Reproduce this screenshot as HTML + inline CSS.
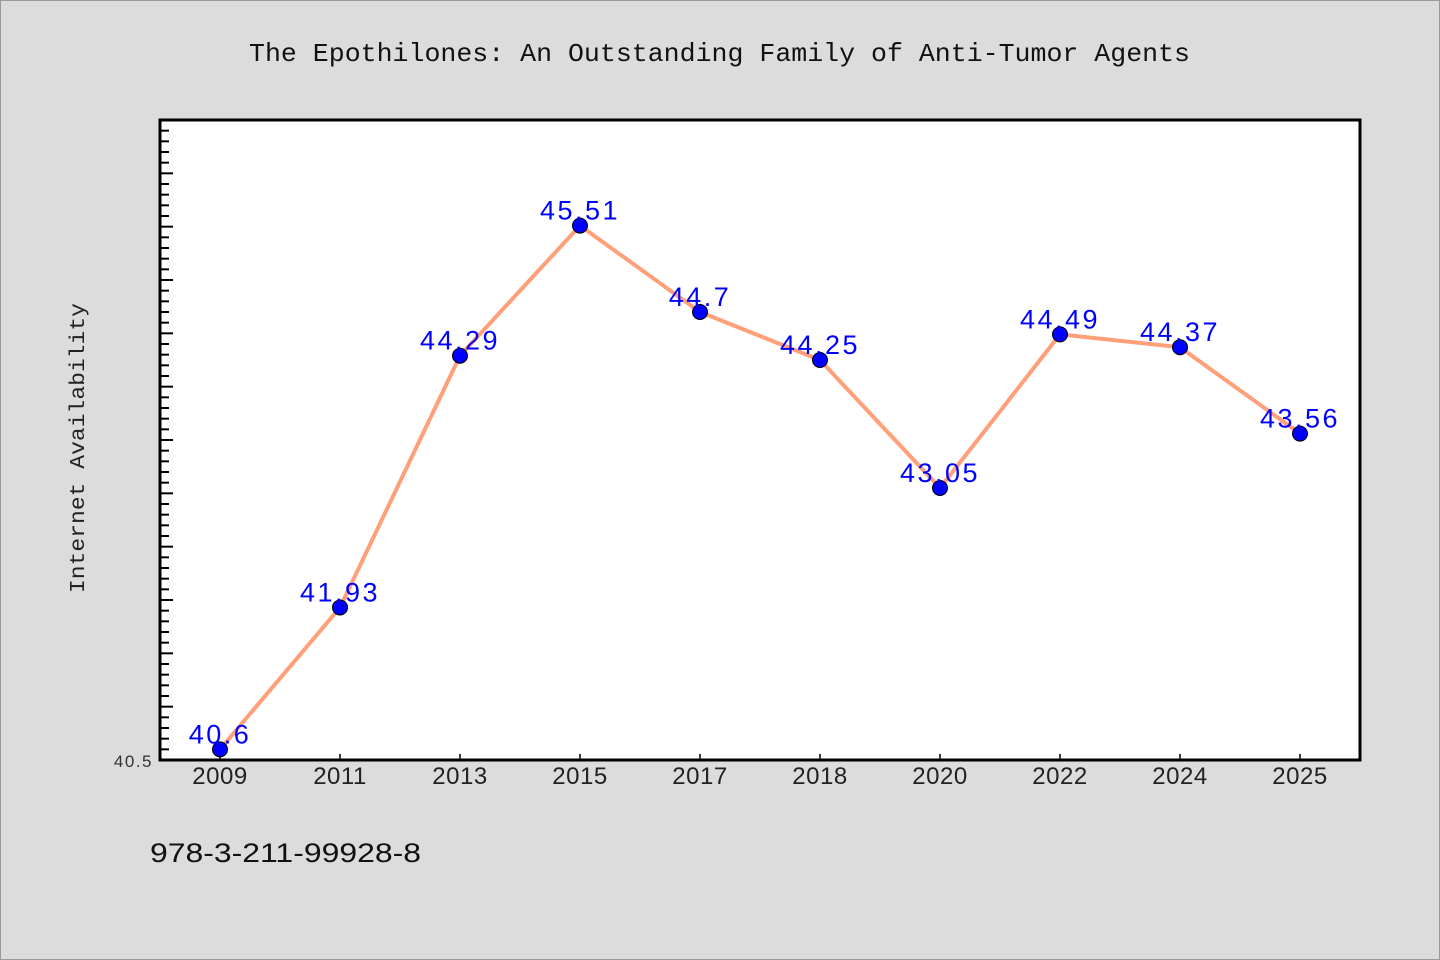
<!DOCTYPE html>
<html><head><meta charset="utf-8"><style>
body{margin:0;background:#dcdcdc;}
svg{display:block;}
</style></head><body>
<svg id="chart" width="1440" height="960" xmlns="http://www.w3.org/2000/svg">
<rect x="0.5" y="0.5" width="1439" height="959" fill="#dcdcdc" stroke="#999"/>
<text x="249" y="61" textLength="941" lengthAdjust="spacingAndGlyphs" font-family="Liberation Mono, monospace" font-size="26" fill="#111">The Epothilones: An Outstanding Family of Anti-Tumor Agents</text>
<rect x="160" y="120" width="1200" height="640" fill="#fff"/>
<g id="yticks"></g><g id="xticks"></g>
<rect x="160" y="120" width="1200" height="640" fill="none" stroke="#000" stroke-width="3"/>
<text transform="translate(84,448) rotate(-90)" text-anchor="middle" textLength="290" lengthAdjust="spacingAndGlyphs" font-family="Liberation Mono, monospace" font-size="21" fill="#222">Internet Availability</text>
<text x="153" y="767" text-anchor="end" font-family="Liberation Sans, sans-serif" font-size="17" letter-spacing="1.5" fill="#333">40.5</text>
<g id="series"></g>
<text x="150" y="862" textLength="271" lengthAdjust="spacingAndGlyphs" font-family="Liberation Sans, sans-serif" font-size="27" fill="#111">978-3-211-99928-8</text>
</svg>
<script>
const categories=["2009","2011","2013","2015","2017","2018","2020","2022","2024","2025"];
const values=[40.6,41.93,44.29,45.51,44.7,44.25,43.05,44.49,44.37,43.56];
const labels=["40.6","41.93","44.29","45.51","44.7","44.25","43.05","44.49","44.37","43.56"];
const yMin=40.5, yMax=46.5;
const NS="http://www.w3.org/2000/svg";
const L=160,R=1360,T=120,B=760;
const xs=i=>L+60+i*(R-L)/categories.length;
const ys=v=>B-(v-yMin)/(yMax-yMin)*(B-T);
function mk(tag,attrs,parent){const e=document.createElementNS(NS,tag);for(const k in attrs)e.setAttribute(k,attrs[k]);parent.appendChild(e);return e;}
const yt=document.getElementById('yticks');
for(let k=1;k<=60;k++){const v=yMin+k*0.1;const y=ys(v);const major=k%5===0;
const t=mk('line',{x1:L,x2:L+(major?13:9),y1:y,y2:y,stroke:'#000','stroke-width':2},yt);

}
const xt=document.getElementById('xticks');
categories.forEach((c,i)=>{const x=xs(i);
const t=mk('line',{x1:x,x2:x,y1:B,y2:B-6,stroke:'#000','stroke-width':1.5},xt);


const l=mk('text',{x:x,y:784,'text-anchor':'middle','font-family':'Liberation Sans, sans-serif','font-size':24,'letter-spacing':0.5,fill:'#222'},xt);
l.textContent=c;

});
const s=document.getElementById('series');
const pl=mk('polyline',{points:values.map((v,i)=>xs(i)+','+ys(v)).join(' '),fill:'none',stroke:'#ffa07a','stroke-width':4,'stroke-linejoin':'round'},s);


values.forEach((v,i)=>{
const c=mk('circle',{cx:xs(i),cy:ys(v),r:7.5,fill:'#0000ff',stroke:'#000','stroke-width':1},s);


const t=mk('text',{x:xs(i),y:ys(v)-6,'text-anchor':'middle','font-family':'Liberation Sans, sans-serif','font-size':27,'letter-spacing':2.5,fill:'#0000ff'},s);
t.textContent=labels[i];

});
</script>
</body></html>
